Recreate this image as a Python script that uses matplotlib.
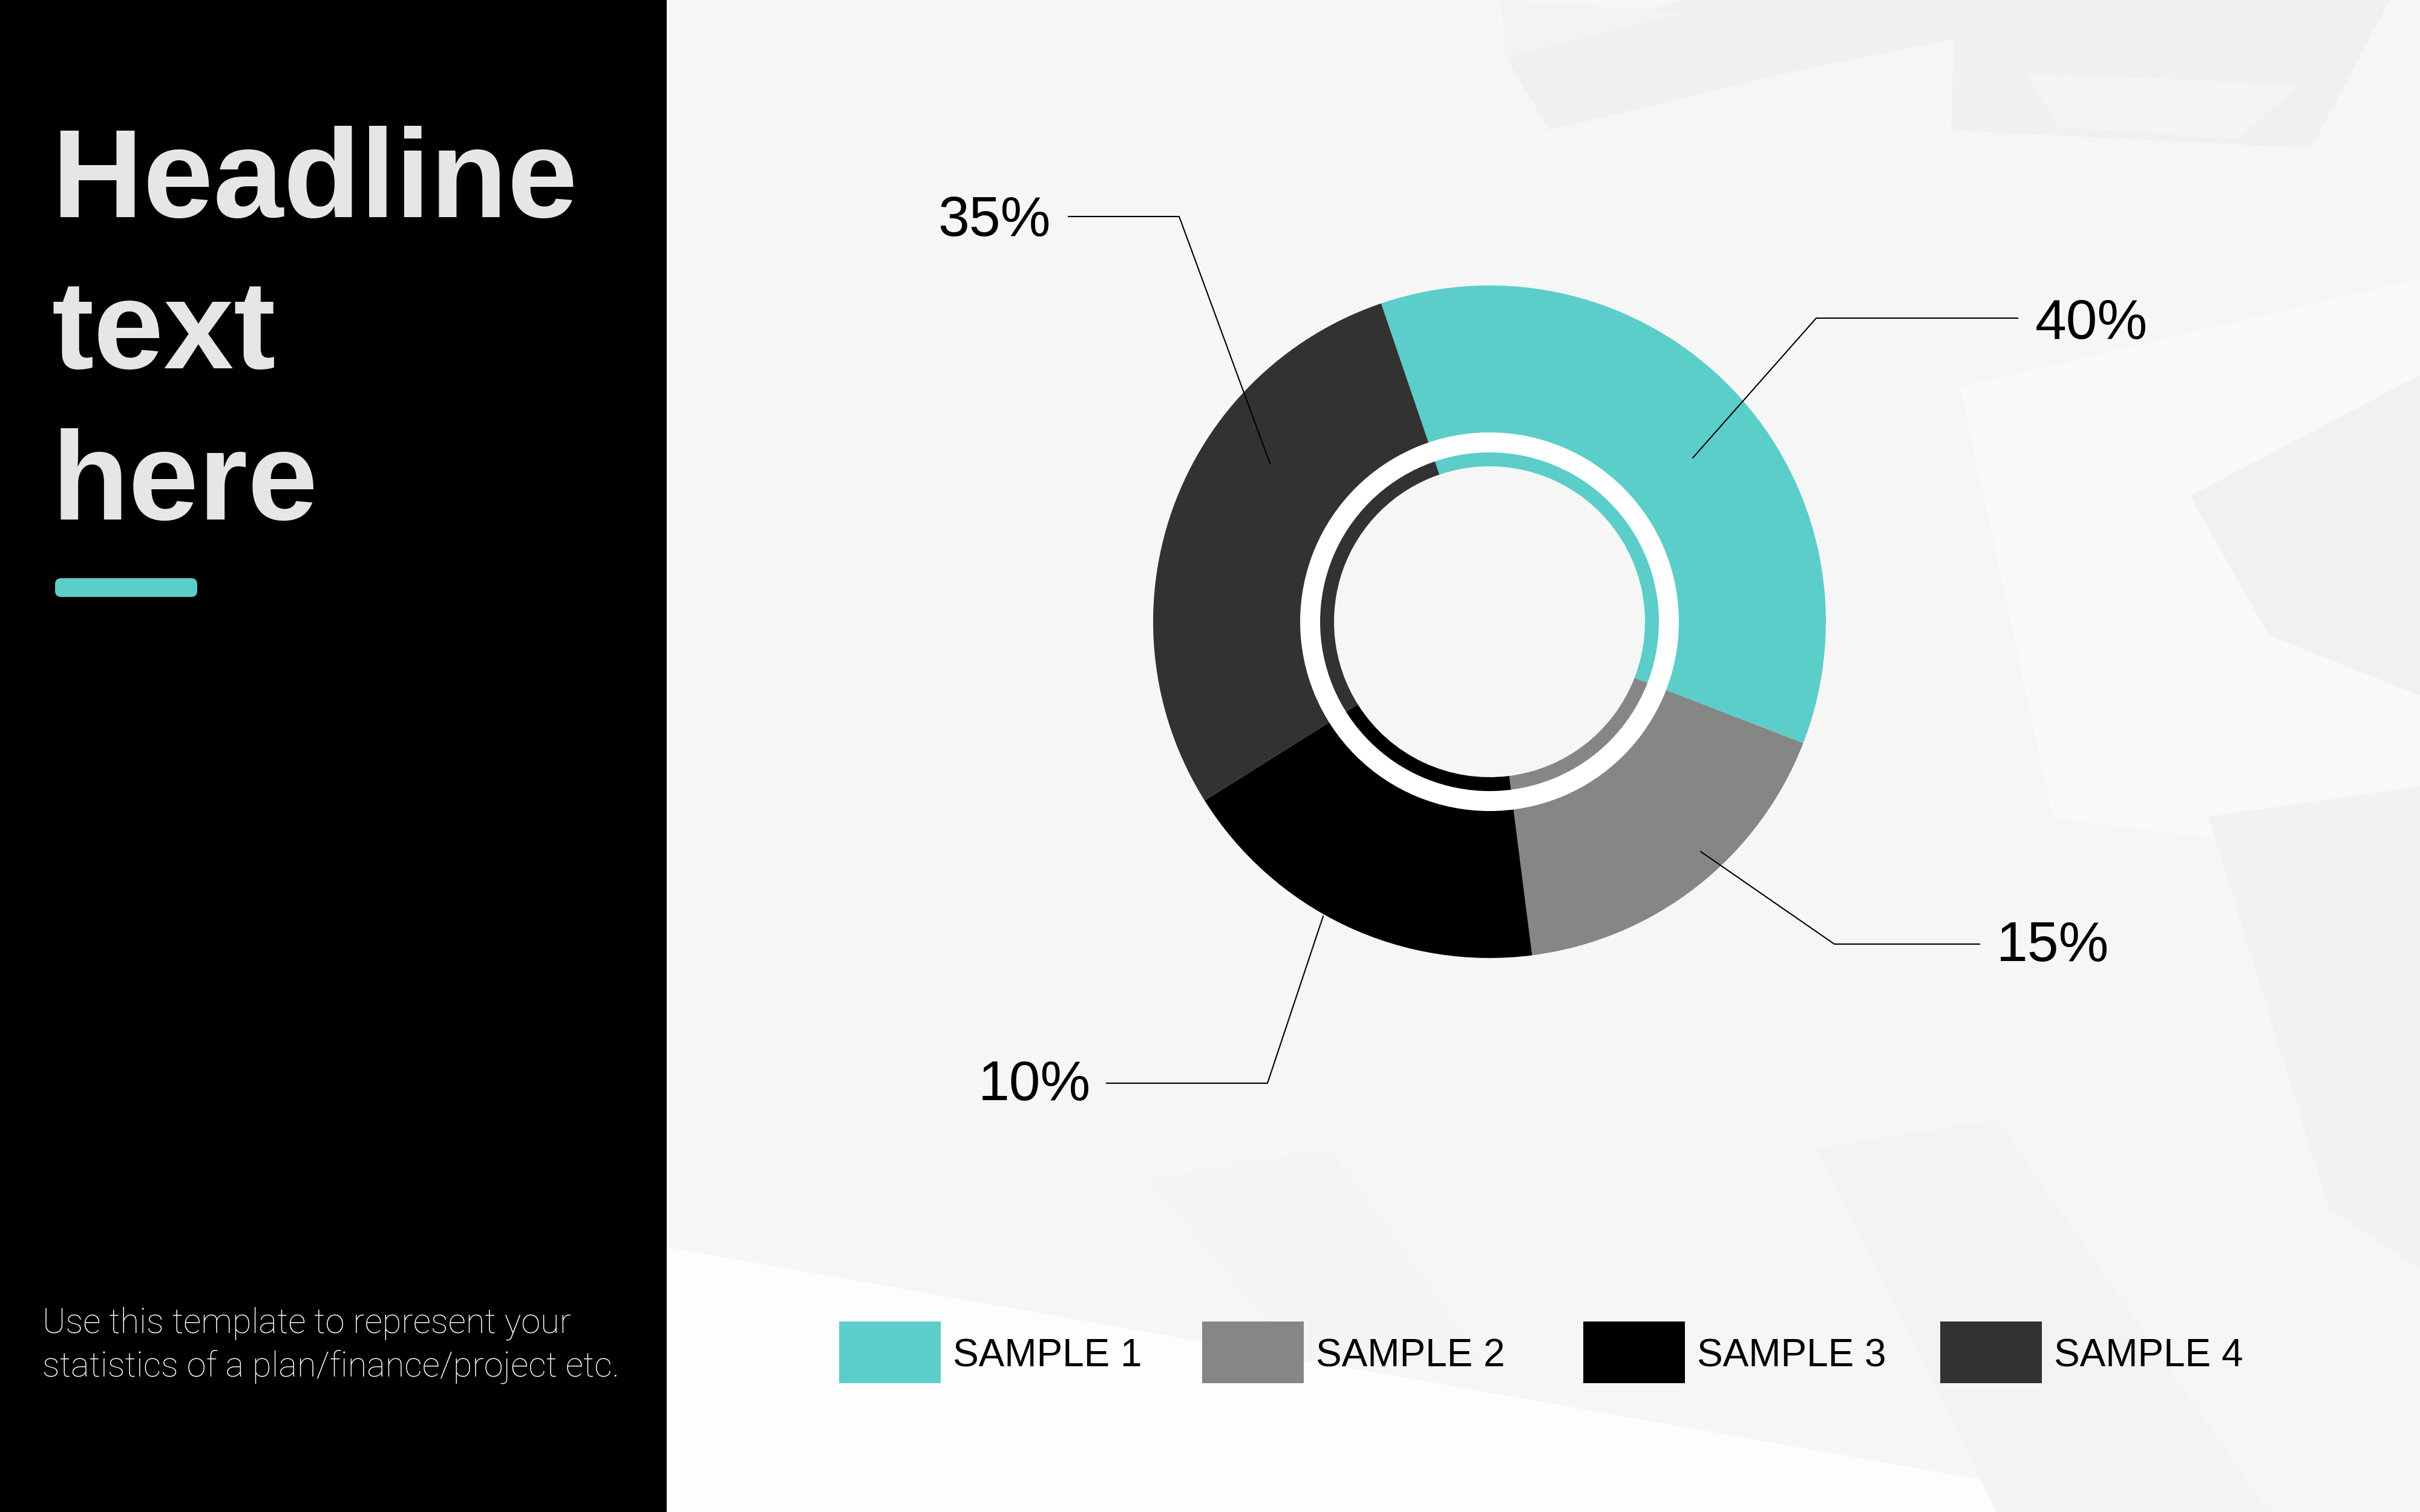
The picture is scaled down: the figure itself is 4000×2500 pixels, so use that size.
import matplotlib
matplotlib.use('Agg')
import matplotlib.pyplot as plt
from matplotlib.patches import Rectangle, Wedge, FancyBboxPatch, Polygon

# ---- data ----
categories = ['SAMPLE 1', 'SAMPLE 2', 'SAMPLE 3', 'SAMPLE 4']
shares = [36.1, 17.1, 18.1, 28.7]          # wedge sizes as drawn in the picture
pct_labels = ['40%', '15%', '10%', '35%']   # printed labels
colors = ['#5bceca', '#878686', '#000000', '#333132']
headline = ['Headline', 'text', 'here']
body = ['Use this template to represent your',
        'statistics of a plan/finance/project etc.']

# ---- layout (pixel coordinates measured from the top) ----
W, H = 4000, 2500
def Y(y):
    return H - y

fig = plt.figure(figsize=(20, 12.5), dpi=200)
ax = fig.add_axes([0, 0, 1, 1])

# background
ax.add_patch(Rectangle((1102, 0), W - 1102, H, fc='#f6f6f6', ec='none', zorder=0))
bg_shapes = [
    ([(1102, 2062), (3578, 2500), (1102, 2500)], '#fdfdfd'),
    ([(2490, 95), (2560, 215), (3000, 110), (3230, 65), (3225, 215), (3820, 245), (3950, 0), (2780, 0)], '#f0f0f1'),
    ([(2480, 0), (2790, 20), (2490, 95)], '#f3f3f4'),
    ([(3240, 640), (4000, 460), (4000, 1430), (3393, 1352)], '#f9f9fa'),
    ([(3620, 820), (4000, 620), (4000, 1150), (3750, 1050)], '#f1f1f2'),
    ([(3650, 1350), (4000, 1300), (4000, 2100), (3850, 2000)], '#f2f2f3'),
    ([(3000, 1900), (3300, 1850), (3750, 2500), (3300, 2500)], '#f3f3f4'),
    ([(1900, 1950), (2200, 1900), (2450, 2250), (2150, 2250)], '#f4f4f5'),
    ([(3350, 120), (3800, 140), (3700, 230), (3400, 210)], '#f4f4f5'),
]
for pts, c in bg_shapes:
    ax.add_patch(Polygon([(x, Y(y)) for x, y in pts], closed=True, fc=c, ec='none', zorder=0.5))

# left black panel
ax.add_patch(Rectangle((0, 0), 1102, H, fc='#000000', ec='none', zorder=1))

# donut
cx, cy = 2462, Y(1028)
R = 556
ax.pie(shares, colors=colors, radius=R, center=(cx, cy), startangle=108.8,
       counterclock=False, wedgeprops=dict(width=244, linewidth=0), frame=True)
ax.add_patch(Wedge((cx, cy), 313, 0, 360, width=33, fc='white', ec='none', zorder=2))
ax.pie(shares, colors=colors, radius=281, center=(cx, cy), startangle=108.8,
       counterclock=False, wedgeprops=dict(width=24, linewidth=0), frame=True)

# leader lines and percentage labels
lab_font = dict(family='Liberation Sans', fontsize=33.5, color='black', zorder=5)
leaders = [
    ([(3335, 526), (3002, 526), (2798, 757)], (3364, 560), 'left'),
    ([(3272, 1561), (3032, 1561), (2811, 1408)], (3300, 1589), 'left'),
    ([(1829, 1791), (2095, 1791), (2187, 1515)], (1803, 1819), 'right'),
    ([(1766, 358), (1949, 358), (2099, 766)], (1737, 390), 'right'),
]
for lab, (pts, (tx, ty), ha) in zip(pct_labels, leaders):
    ax.plot([p[0] for p in pts], [Y(p[1]) for p in pts], color='black', lw=0.75, zorder=4)
    ax.text(tx, Y(ty), lab, ha=ha, va='baseline', **lab_font)

# legend
sq_x = [1387, 1987, 2617, 3207]
for cat, col, x0 in zip(categories, colors, sq_x):
    ax.add_patch(Rectangle((x0, Y(2287)), 168, 102, fc=col, ec='none', zorder=3))
    ax.text(x0 + 188, Y(2260), cat, ha='left', va='baseline',
            family='Liberation Sans', fontsize=23, color='black', zorder=5)

# headline
for i, line in enumerate(headline):
    ax.text(86, Y(359 + 250 * i), line, ha='left', va='baseline', family='Liberation Sans',
            fontweight='bold', fontsize=75, color='#e6e6e6', zorder=5)
ax.add_patch(FancyBboxPatch((97, Y(981)), 223, 19, boxstyle='round,pad=6,rounding_size=10',
                            fc='#5bceca', ec='none', zorder=5))

# body text
for i, line in enumerate(body):
    ax.text(70, Y(2204 + 71 * i), line, ha='left', va='baseline', family='Roboto',
            fontweight='light', fontsize=20.8, color='white', zorder=5)

ax.set_xlim(0, W)
ax.set_ylim(0, H)
ax.set_aspect('auto')
ax.axis('off')
fig.savefig('out.png', dpi=200)
